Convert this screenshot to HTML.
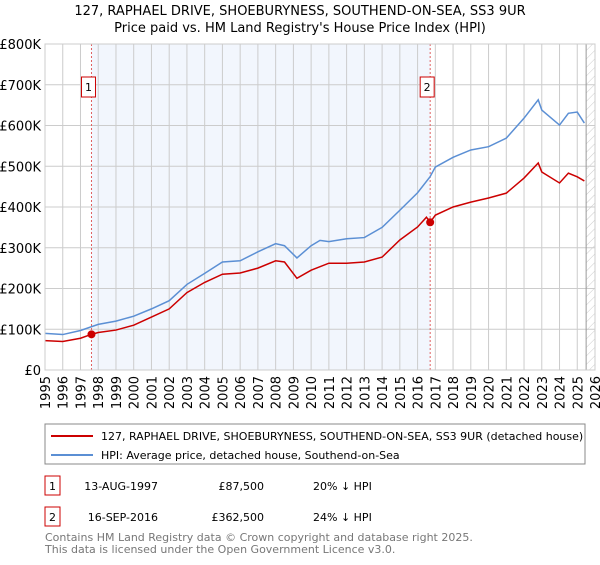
<!DOCTYPE html>
<html><head><meta charset="utf-8"><style>
body{margin:0;background:#fff;font-family:"Liberation Sans","DejaVu Sans",sans-serif;}
svg text{font-family:"DejaVu Sans","Liberation Sans",sans-serif;}
</style></head><body>
<svg id="c" width="600" height="560" xmlns="http://www.w3.org/2000/svg">
<defs><pattern id="hatch" width="6" height="6" patternUnits="userSpaceOnUse" patternTransform="rotate(45)"><line x1="0" y1="0" x2="0" y2="6" stroke="#ccc" stroke-width="1"/></pattern></defs>
<text x="300" y="15" text-anchor="middle" font-size="13" fill="#000">127, RAPHAEL DRIVE, SHOEBURYNESS, SOUTHEND-ON-SEA, SS3 9UR</text>
<text x="300" y="32" text-anchor="middle" font-size="13" fill="#000">Price paid vs. HM Land Registry's House Price Index (HPI)</text>
<g id="plot"></g>
<rect x="45" y="424" width="540" height="40" fill="#fff" stroke="#888"/>
<line x1="51" y1="436" x2="93" y2="436" stroke="#cc0000" stroke-width="2"/>
<text x="101" y="440" font-size="11">127, RAPHAEL DRIVE, SHOEBURYNESS, SOUTHEND-ON-SEA, SS3 9UR (detached house)</text>
<line x1="51" y1="455" x2="93" y2="455" stroke="#5b8fd4" stroke-width="2"/>
<text x="101" y="459" font-size="11">HPI: Average price, detached house, Southend-on-Sea</text>
<g>
<rect x="45" y="476" width="15" height="19" fill="#fff" stroke="#cc0000"/><text x="52.5" y="490" text-anchor="middle" font-size="11">1</text>
<text x="158" y="490" text-anchor="end" font-size="11">13-AUG-1997</text>
<text x="264" y="490" text-anchor="end" font-size="11">£87,500</text>
<text x="313" y="490" font-size="11">20% ↓ HPI</text></g>
<g>
<rect x="45" y="507" width="15" height="19" fill="#fff" stroke="#cc0000"/><text x="52.5" y="521" text-anchor="middle" font-size="11">2</text>
<text x="158" y="521" text-anchor="end" font-size="11">16-SEP-2016</text>
<text x="264" y="521" text-anchor="end" font-size="11">£362,500</text>
<text x="313" y="521" font-size="11">24% ↓ HPI</text></g>
<text x="45" y="541" font-size="11" fill="#777">Contains HM Land Registry data © Crown copyright and database right 2025.</text>
<text x="45" y="553" font-size="11" fill="#777">This data is licensed under the Open Government Licence v3.0.</text>
</svg>
<script>
const hpiYears=[1995,1996,1997,1998,1999,2000,2001,2002,2003,2004,2005,2006,2007,2008,2008.5,2009.2,2010,2010.5,2011,2012,2013,2014,2015,2016,2016.7,2017,2018,2019,2020,2021,2022,2022.8,2023,2024,2024.5,2025,2025.4];
const hpiValues=[90,87,97,112,120,132,150,170,210,237,265,268,290,310,305,275,305,318,315,322,325,350,392,435,474,498,522,540,548,569,618,663,638,601,630,633,606];
const propYears=[1995,1996,1997,1997.62,1998,1999,2000,2001,2002,2003,2004,2005,2006,2007,2008,2008.5,2009.2,2010,2011,2012,2013,2014,2015,2016,2016.5,2016.71,2017,2018,2019,2020,2021,2022,2022.8,2023,2024,2024.5,2025,2025.4];
const propValues=[72,70,78,87.5,92,98,110,130,150,190,215,235,238,250,268,265,225,245,262,262,265,277,319,351,375,362.5,380,400,412,422,434,471,508,486,459,483,474,464];
const saleYears=[1997.62,2016.71];
const saleValues=[87.5,362.5];
const saleLabels=["1","2"];
const yTicks=[0,100,200,300,400,500,600,700,800];
const yTickLabels=["£0","£100K","£200K","£300K","£400K","£500K","£600K","£700K","£800K"];
const xTicks=[1995,1996,1997,1998,1999,2000,2001,2002,2003,2004,2005,2006,2007,2008,2009,2010,2011,2012,2013,2014,2015,2016,2017,2018,2019,2020,2021,2022,2023,2024,2025,2026];
const X0=45,X1=595,Y0=370,Y1=44;
const xs=y=>X0+(y-1995)/(2026-1995)*(X1-X0);
const ys=v=>Y0-v/800*(Y0-Y1);
const NS="http://www.w3.org/2000/svg";
const g=document.getElementById('plot');
function mk(t,a){const e=document.createElementNS(NS,t);for(const k in a)e.setAttribute(k,a[k]);g.appendChild(e);return e;}
let e;
e=mk('rect',{x:xs(saleYears[0]),y:Y1,width:xs(saleYears[1])-xs(saleYears[0]),height:Y0-Y1,fill:'#f2f6fd'});


e=mk('rect',{x:xs(2025.5),y:Y1,width:X1-xs(2025.5),height:Y0-Y1,fill:'url(#hatch)'});


xTicks.forEach(t=>{e=mk('line',{x1:xs(t),x2:xs(t),y1:Y1,y2:Y0,stroke:'#ccc'});


e=mk('text',{x:0,y:0,'font-size':13,'text-anchor':'end',transform:`translate(${xs(t)+5},${Y0+6}) rotate(-90)`});e.textContent=t;

});
yTicks.forEach((t,i)=>{e=mk('line',{x1:X0,x2:X1,y1:ys(t),y2:ys(t),stroke:'#ccc'});


e=mk('text',{x:X0-4,y:ys(t)+5,'font-size':13,'text-anchor':'end'});e.textContent=yTickLabels[i];

});
e=mk('line',{x1:xs(2025.5),x2:xs(2025.5),y1:Y1,y2:Y0,stroke:'#999'});


saleYears.forEach((s,i)=>{e=mk('line',{x1:xs(s),x2:xs(s),y1:Y1,y2:Y0,stroke:'#e06060','stroke-dasharray':'2,2'});


e=mk('rect',{x:xs(s)-10,y:77,width:14,height:20,fill:'#fff',stroke:'#cc0000'});


e=mk('text',{x:xs(s)-3,y:91,'font-size':11,'text-anchor':'middle'});e.textContent=saleLabels[i];

});
e=mk('polyline',{points:hpiYears.map((y,i)=>xs(y)+','+ys(hpiValues[i])).join(' '),fill:'none',stroke:'#5b8fd4','stroke-width':1.5});


e=mk('polyline',{points:propYears.map((y,i)=>xs(y)+','+ys(propValues[i])).join(' '),fill:'none',stroke:'#cc0000','stroke-width':1.5});


saleYears.forEach((s,i)=>{e=mk('circle',{cx:xs(s),cy:ys(saleValues[i]),r:4,fill:'#cc0000'});

});
e=mk('rect',{x:X0,y:Y1,width:X1-X0,height:Y0-Y1,fill:'none',stroke:'#ccc'});


</script>
</body></html>
